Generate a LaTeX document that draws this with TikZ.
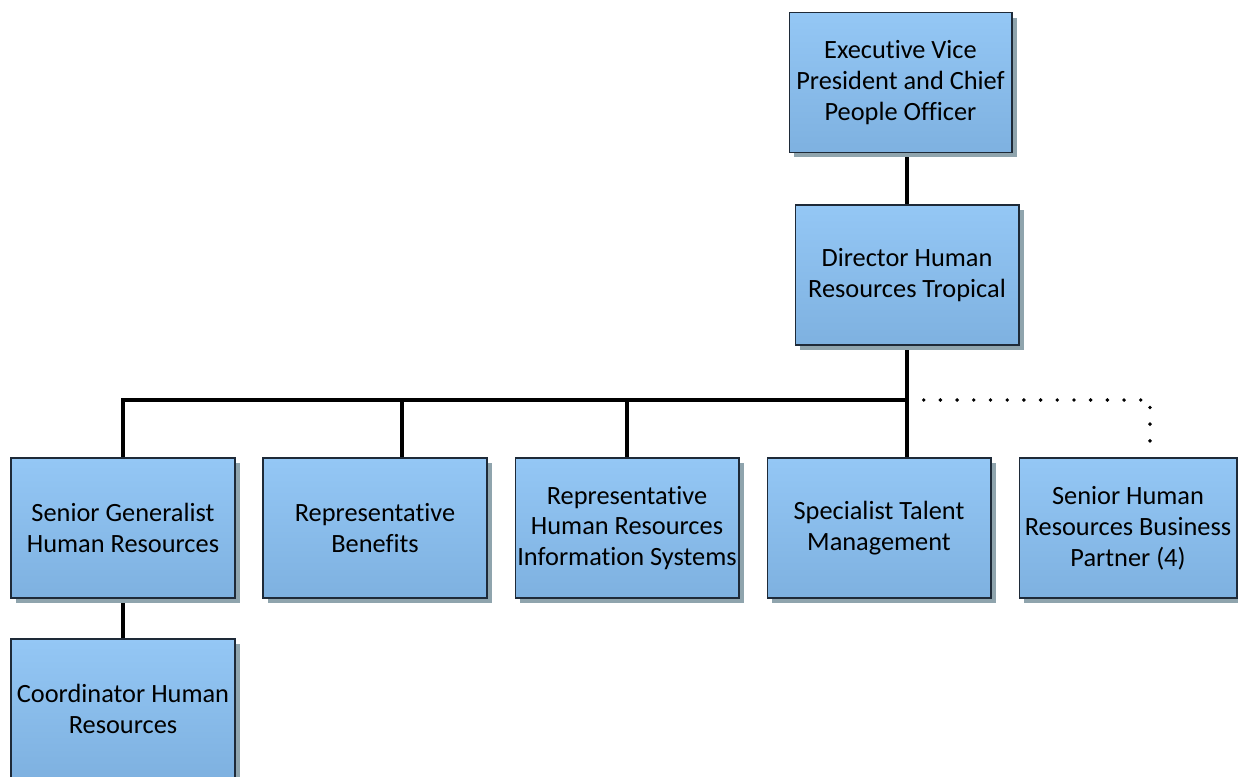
\documentclass[tikz,border=0pt]{standalone}
\usepackage{fontspec}
\setmainfont{Carlito}[Ligatures=NoCommon]
\usetikzlibrary{positioning, shadows, backgrounds}

\definecolor{boxtop}{RGB}{148,199,245}
\definecolor{boxbottom}{RGB}{126,177,224}
\definecolor{boxedge}{RGB}{30,42,56}
\definecolor{shadowgray}{RGB}{143,164,173}

\begin{document}
\begin{tikzpicture}[
  x=0.02cm, y=-0.02cm,
  font=\fontsize{15}{17.6}\selectfont,
  post/.style={
    draw=boxedge, line width=0.6pt,
    top color=boxtop, bottom color=boxbottom,
    minimum width=4.48cm, minimum height=2.8cm,
    align=center, inner xsep=0pt, inner ysep=2pt,
    drop shadow={shadow xshift=0.1cm, shadow yshift=-0.1cm,
                 fill=shadowgray, opacity=1}
  },
  link/.style={draw=black, line width=2.2pt},
  dotline/.style={draw=black, line width=2.2pt, line cap=round,
                  dash pattern=on 0pt off 0.334cm},
]

\clip (0,0) rectangle (1238,777);

% Top of the chart
\node[post, minimum width=4.46cm] (evp) at (900.5, 82.5) {Executive Vice\\President and Chief\\People Officer};
\node[post] (dir) at (907, 275) {Director Human\\Resources Tropical};

% Direct reports row
\node[post] (sgen)  at (123, 528)  {Senior Generalist\\Human Resources};
\node[post] (rben)  at (375, 528)  {Representative\\Benefits};
\node[post] (rhris) at (627, 528)  {Representative\\Human Resources\\Information Systems};
\node[post] (stal)  at (879, 528)  {Specialist Talent\\Management};
\node[post, minimum width=4.36cm] (shrbp) at (1128, 528) {Senior Human\\Resources Business\\Partner (4)};

% Second level under the generalist
\node[post] (coord) at (123, 709) {Coordinator Human\\Resources};

% Connectors behind the boxes
\begin{scope}[on background layer]
  \coordinate (bus) at (907, 400);
  \coordinate (rbenin) at ([xshift=0.54cm]rben.north);
  \coordinate (dotturn) at (1150, 400);
  \draw[link] (evp.south -| dir) -- (dir.north);
  \draw[link] (dir.south) -- (dir.south |- stal.north);
  \draw[link] (sgen.north) -- (sgen.north |- bus) -- (bus);
  \draw[link] (rbenin) -- (rbenin |- bus);
  \draw[link] (rhris.north) -- (rhris.north |- bus);
  \draw[link] (sgen.south) -- (coord.north);
  \draw[dotline] (bus) -- (dotturn) -- (dotturn |- shrbp.north);
\end{scope}

\end{tikzpicture}
\end{document}
